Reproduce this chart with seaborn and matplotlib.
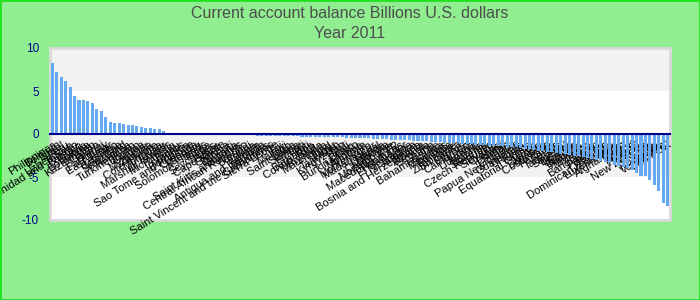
import matplotlib
matplotlib.use("Agg")
import matplotlib.pyplot as plt
import seaborn as sns
import pandas as pd
from matplotlib.patches import Rectangle

title_line1 = "Current account balance Billions U.S. dollars"
title_line2 = "Year 2011"

countries = [
    "Philippines", "Belgium", "Israel", "Peru", "Uzbekistan",
    "Trinidad and Tobago", "Bahrain", "Bolivia", "Botswana", "Kazakhstan",
    "Gabon", "Brunei", "Paraguay", "East Timor", "Lesotho",
    "Colombia", "Swaziland", "Namibia", "Turkmenistan", "Bhutan",
    "Guinea", "Myanmar", "Zambia", "Cote d'Ivoire", "Mongolia",
    "Tuvalu", "Marshall Islands", "Micronesia", "Palau", "Comoros",
    "Dominica", "Sao Tome and Principe", "Grenada", "Vanuatu", "Solomon Islands",
    "Tonga", "Seychelles", "Belize", "Cape Verde", "Gambia",
    "Djibouti", "Guyana", "Saint Kitts and Nevis", "Central African Republic", "Burundi",
    "Eritrea", "Liberia", "Antigua and Barbuda", "Maldives", "Saint Vincent and the Grenadines",
    "Sierra Leone", "Fiji", "Malawi", "Togo", "Saint Lucia",
    "Samoa", "Kiribati", "Haiti", "Barbados", "Congo, Rep.",
    "Rwanda", "Mauritania", "Chad", "Niger", "Tajikistan",
    "Kyrgyzstan", "Mali", "Benin", "Burkina Faso", "Moldova",
    "Armenia", "Montenegro", "Madagascar", "Nepal", "Uganda",
    "Cambodia", "Mozambique", "Macedonia, FYR", "Honduras", "El Salvador",
    "Nicaragua", "Jamaica", "Bosnia and Herzegovina", "Albania", "Georgia",
    "Ghana", "Bahamas, The", "Kenya", "Mauritius", "Ethiopia",
    "Zimbabwe", "Sri Lanka", "Cyprus", "Cameroon", "Latvia",
    "Lithuania", "Estonia", "Slovenia", "Czech Republic", "Slovakia",
    "Croatia", "Iceland", "Sudan", "Ecuador", "Papua New Guinea",
    "Guatemala", "Uruguay", "Tunisia", "Equatorial Guinea", "Jordan",
    "Lebanon", "Costa Rica", "Panama", "Serbia", "Tanzania",
    "Senegal", "Belarus", "Ukraine", "Bulgaria", "Hungary",
    "Morocco", "Syria", "Bangladesh", "Pakistan", "Vietnam",
    "Dominican Republic", "Luxembourg", "Malta", "Afghanistan", "Egypt",
    "Ireland", "Finland", "Kosovo", "New Zealand", "Iraq",
    "Romania", "Algeria", "Venezuela", "Lao PDR",
]

balances = [
    8.3, 7.24, 6.66, 6.2, 5.5, 4.45, 4.0, 4.0, 3.87, 3.64, 2.93, 2.7, 2.0, 1.43,
    1.3, 1.3, 1.19, 1.08, 1.08, 0.97, 0.85, 0.73, 0.73, 0.62, 0.62, 0.38, 0.15, 0.15,
    0.04, 0.02, 0.01, 0.0, -0.01,
    -0.05, -0.06, -0.06, -0.07, -0.08, -0.08, -0.09, -0.09, -0.1, -0.1, -0.11, -0.11, -0.12,
    -0.2, -0.21, -0.22, -0.22, -0.23, -0.25, -0.26, -0.27, -0.27, -0.28, -0.3, -0.31,
    -0.32, -0.33, -0.34, -0.35, -0.36, -0.37, -0.38,
    -0.4, -0.42, -0.44, -0.46, -0.48, -0.5, -0.52, -0.55, -0.58, -0.6, -0.62, -0.64,
    -0.67, -0.7, -0.72, -0.75, -0.78, -0.8, -0.83, -0.86, -0.9, -0.93, -0.97, -1.0,
    -1.03, -1.06, -1.1, -1.13, -1.17, -1.2, -1.24, -1.28, -1.3, -1.34, -1.37, -1.4,
    -1.43, -1.46,
    -1.5, -1.55, -1.62, -1.7, -1.78, -1.85, -1.92, -2.0, -2.08, -2.15, -2.22, -2.3,
    -2.38, -2.45, -2.52, -2.6, -2.7, -2.8, -2.9, -3.0, -3.1, -3.25, -3.4, -3.55, -3.7,
    -3.85,
    -4.0, -4.2, -4.5, -4.9, -4.9, -5.3, -5.9, -6.6, -8.0, -8.4,
]

y_ticks = [-10, -5, 0, 5, 10]

df = pd.DataFrame({"country": countries, "balance": balances})

plt.rcParams["font.family"] = ["Liberation Sans", "DejaVu Sans"]

fig = plt.figure(figsize=(7, 3), dpi=100, facecolor="#90ee90")
ax = fig.add_axes([50 / 700, 1 - 220 / 300, 620 / 700, 172 / 300])
ax.set_facecolor("white")

ax.axhspan(5, 10, color="#f2f2f2", zorder=0, lw=0)
ax.axhspan(-5, 0, color="#f2f2f2", zorder=0, lw=0)

sns.barplot(data=df, x="country", y="balance", color="#64a9f2", saturation=1,
            width=0.68, ax=ax, zorder=2)

ax.set_ylim(-10, 10)
ax.set_xlim(-0.5, len(countries) - 0.5)
ax.set_yticks(y_ticks)
ax.set_yticklabels([str(t) for t in y_ticks], color="#00008b", fontsize=8.5)
ax.set_xlabel("")
ax.set_ylabel("")

for s in ["top", "right", "left"]:
    ax.spines[s].set_visible(False)
ax.spines["bottom"].set_position(("data", 0))
ax.spines["bottom"].set_color("#00008b")
ax.spines["bottom"].set_linewidth(1.5)
ax.spines["bottom"].set_zorder(3)

ax.tick_params(axis="both", length=0)
ax.tick_params(axis="y", pad=8)
ax.tick_params(axis="x", pad=4)
for lbl in ax.get_xticklabels():
    lbl.set_rotation(32)
    lbl.set_ha("right")
    lbl.set_rotation_mode("anchor")
    lbl.set_fontsize(8)
    lbl.set_color("black")

frame = Rectangle((0, 0), 1, 1, transform=ax.transAxes, fill=False,
                  edgecolor="#d9d9d9", lw=2, clip_on=False, zorder=1)
ax.add_patch(frame)

fig.text(0.5, 1 - 13 / 300, title_line1, ha="center", va="center",
         fontsize=11.5, color="#4d4d4d")
fig.text(0.5, 1 - 33 / 300, title_line2, ha="center", va="center",
         fontsize=11.5, color="#4d4d4d")

fig.patches.append(Rectangle((0, 0), 1, 1, transform=fig.transFigure, fill=False,
                             edgecolor="#22e022", lw=2, zorder=10))

fig.savefig("out.png", dpi=100, facecolor=fig.get_facecolor())
